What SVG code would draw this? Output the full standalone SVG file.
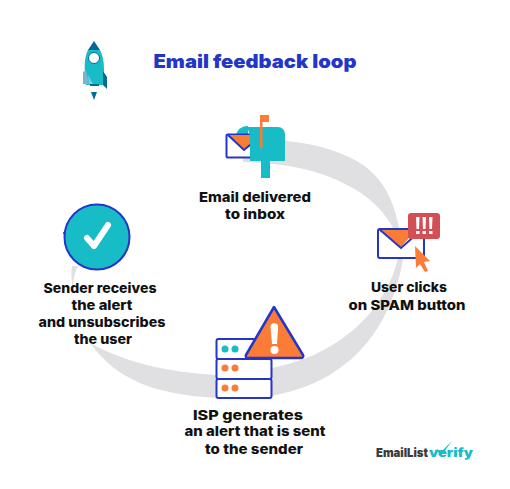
<svg xmlns="http://www.w3.org/2000/svg" width="510" height="489" viewBox="0 0 510 489">
<style>
text{font-family:Inter,"Liberation Sans",sans-serif;font-weight:800;fill:#111;font-size:13.5px;text-anchor:middle}
.b{fill:none;stroke:#2436c8;stroke-width:2}
.o{fill:#fb7c36}.t{fill:#17bcc6}.d{fill:#05689b}
.r{fill:#e0e0e2}
</style>
<rect width="510" height="489" fill="#fff"/>
<g id="connectors">
<path class="r" d="M243 139C285 139 330 143 363 165C380 177 393 195 399 228H393C385 212 368 195 347 185C320 170 285 163 243 162Z"/>
<path class="r" d="M403 258C397 300 375 345 337 370C318 384 295 391 272 396V368C300 362 327 352 352 331C375 312 392 285 398 258Z"/>
<path class="r" d="M90 343C125 362 165 372 217 375V398C165 395 120 385 90 343Z"/>
<path class="r" d="M72 266H78C75 272 73 279 73 288C71 280 71 272 72 266Z"/>
</g>
<g id="rocket">
<path class="d" d="M94 41L100 50H88Z"/>
<path class="t" d="M88 50H100C104 58 105 68 103 85H86C84 68 84 58 88 50Z"/>
<circle cx="94" cy="58" r="5.500" fill="#fff" stroke="#05689b" stroke-width="1"/>
<path d="M83 72L86 70L89 84H83V89Z" fill="#7fb1d0"/>
<path class="d" d="M103 71L107 77V89L103 85Z"/>
<path d="M88 75L93 84H89Z" fill="#6fd3dc"/>
<path class="d" d="M90 84H99V86H90ZM91 92H97L94 100Z"/>
</g>
<text x="255" y="68" style="font-size:18.500px;font-weight:900;fill:#2436c8" textLength="203" lengthAdjust="spacingAndGlyphs">Email feedback loop</text>
<g id="n1">
<path class="t" d="M236 136a11 11 0 0 1 12-10V150H236Z"/>
<rect x="226.500" y="134.500" width="45" height="23" rx="1" fill="#fff" stroke="#2436c8" stroke-width="2"/>
<path class="o" d="M228 135H256V143L244 150Z"/>
<path d="M228 135L244 150L256 140" class="b"/>
<path class="t" d="M247 127H278a7 7 0 0 1 7 7V161H250V135Z"/>
<rect class="t" x="261" y="160" width="9" height="18"/>
<rect class="o" x="260" y="115" width="2.500" height="33"/>
<rect class="o" x="260" y="115" width="9" height="7"/>
<text x="255" y="202" textLength="112" lengthAdjust="spacingAndGlyphs">Email delivered</text>
<text x="255" y="219" textLength="60" lengthAdjust="spacingAndGlyphs">to inbox</text>
</g>
<g id="n2">
<rect x="378" y="229" width="46" height="29" rx="2" fill="#fff" stroke="#2436c8" stroke-width="2"/>
<path class="o" d="M380 230H416L401 247Z"/>
<path class="b" d="M379 229L401 248L418 233"/>
<rect x="408" y="213" width="32" height="26" rx="3" fill="#d34f56"/>
<path fill="#fff" d="M416 217h3.500l-.5 12h-2.500ZM422.500 217h3.500l-.5 12h-2.500ZM429 217h3.500l-.5 12h-2.500ZM416 231h3.500v3h-3.500ZM422.500 231h3.500v3h-3.500ZM429 231h3.500v3h-3.500Z"/>
<path class="o" d="M415 246L430 261L424 262L428 271L425 272L420 264L416 268Z"/>
<text x="409" y="292" textLength="76" lengthAdjust="spacingAndGlyphs">User clicks</text>
<text x="407" y="310" textLength="117" lengthAdjust="spacingAndGlyphs">on SPAM button</text>
</g>
<g id="n3">
<rect x="216.500" y="339" width="55" height="20" rx="2" fill="#fff" stroke="#2436c8" stroke-width="2"/>
<rect x="216.500" y="359" width="55" height="20" rx="2" fill="#fff" stroke="#2436c8" stroke-width="2"/>
<rect x="216.500" y="379" width="55" height="19" rx="2" fill="#fff" stroke="#2436c8" stroke-width="2"/>
<circle class="t" cx="225" cy="349" r="3.500"/><circle class="t" cx="235" cy="349" r="3.500"/>
<circle class="o" cx="225" cy="368" r="3.500"/><circle class="o" cx="235" cy="368" r="3.500"/>
<circle class="o" cx="225" cy="388" r="3.500"/><circle class="o" cx="235" cy="388" r="3.500"/>
<path class="o" stroke="#2436c8" stroke-width="2.500" stroke-linejoin="round" d="M274 307L303 355a2 2 0 0 1 -2 3H248a2 2 0 0 1 -2 -3Z"/>
<path fill="#fff" d="M270.500 327a3.800 3.800 0 0 1 7.600 0L277 344H272ZM274.500 346a3.500 3.500 0 1 1 0 8a3.500 3.500 0 1 1 0-8Z"/>
<text x="248" y="420" textLength="110" lengthAdjust="spacingAndGlyphs">ISP generates</text>
<text x="255" y="436" textLength="141" lengthAdjust="spacingAndGlyphs">an alert that is sent</text>
<text x="254" y="454" textLength="98" lengthAdjust="spacingAndGlyphs">to the sender</text>
</g>
<g id="n4">
<circle class="t" cx="97" cy="237" r="32.500" stroke="#2436c8" stroke-width="2"/>
<circle cx="64.500" cy="233" r="1.500" fill="#2436c8"/>
<path fill="none" stroke="#fff" stroke-width="6" stroke-linecap="round" stroke-linejoin="round" d="M87 238L94 246L108 225"/>
<text x="100" y="293" textLength="113" lengthAdjust="spacingAndGlyphs">Sender receives</text>
<text x="102" y="310" textLength="61" lengthAdjust="spacingAndGlyphs">the alert</text>
<text x="102" y="327" textLength="127" lengthAdjust="spacingAndGlyphs">and unsubscribes</text>
<text x="103" y="344" textLength="58" lengthAdjust="spacingAndGlyphs">the user</text>
</g>
<g id="logo">
<text x="402" y="457" style="font-size:12px;font-weight:900;fill:#3b3b3b" textLength="52" lengthAdjust="spacingAndGlyphs">EmailList</text>
<text x="451" y="457" style="font-size:12px;font-weight:900;fill:#17bcc6" textLength="44" lengthAdjust="spacingAndGlyphs">verify</text>
<path fill="#17bcc6" d="M436 449L441 456L452 441L442 451Z"/>
</g>
</svg>
